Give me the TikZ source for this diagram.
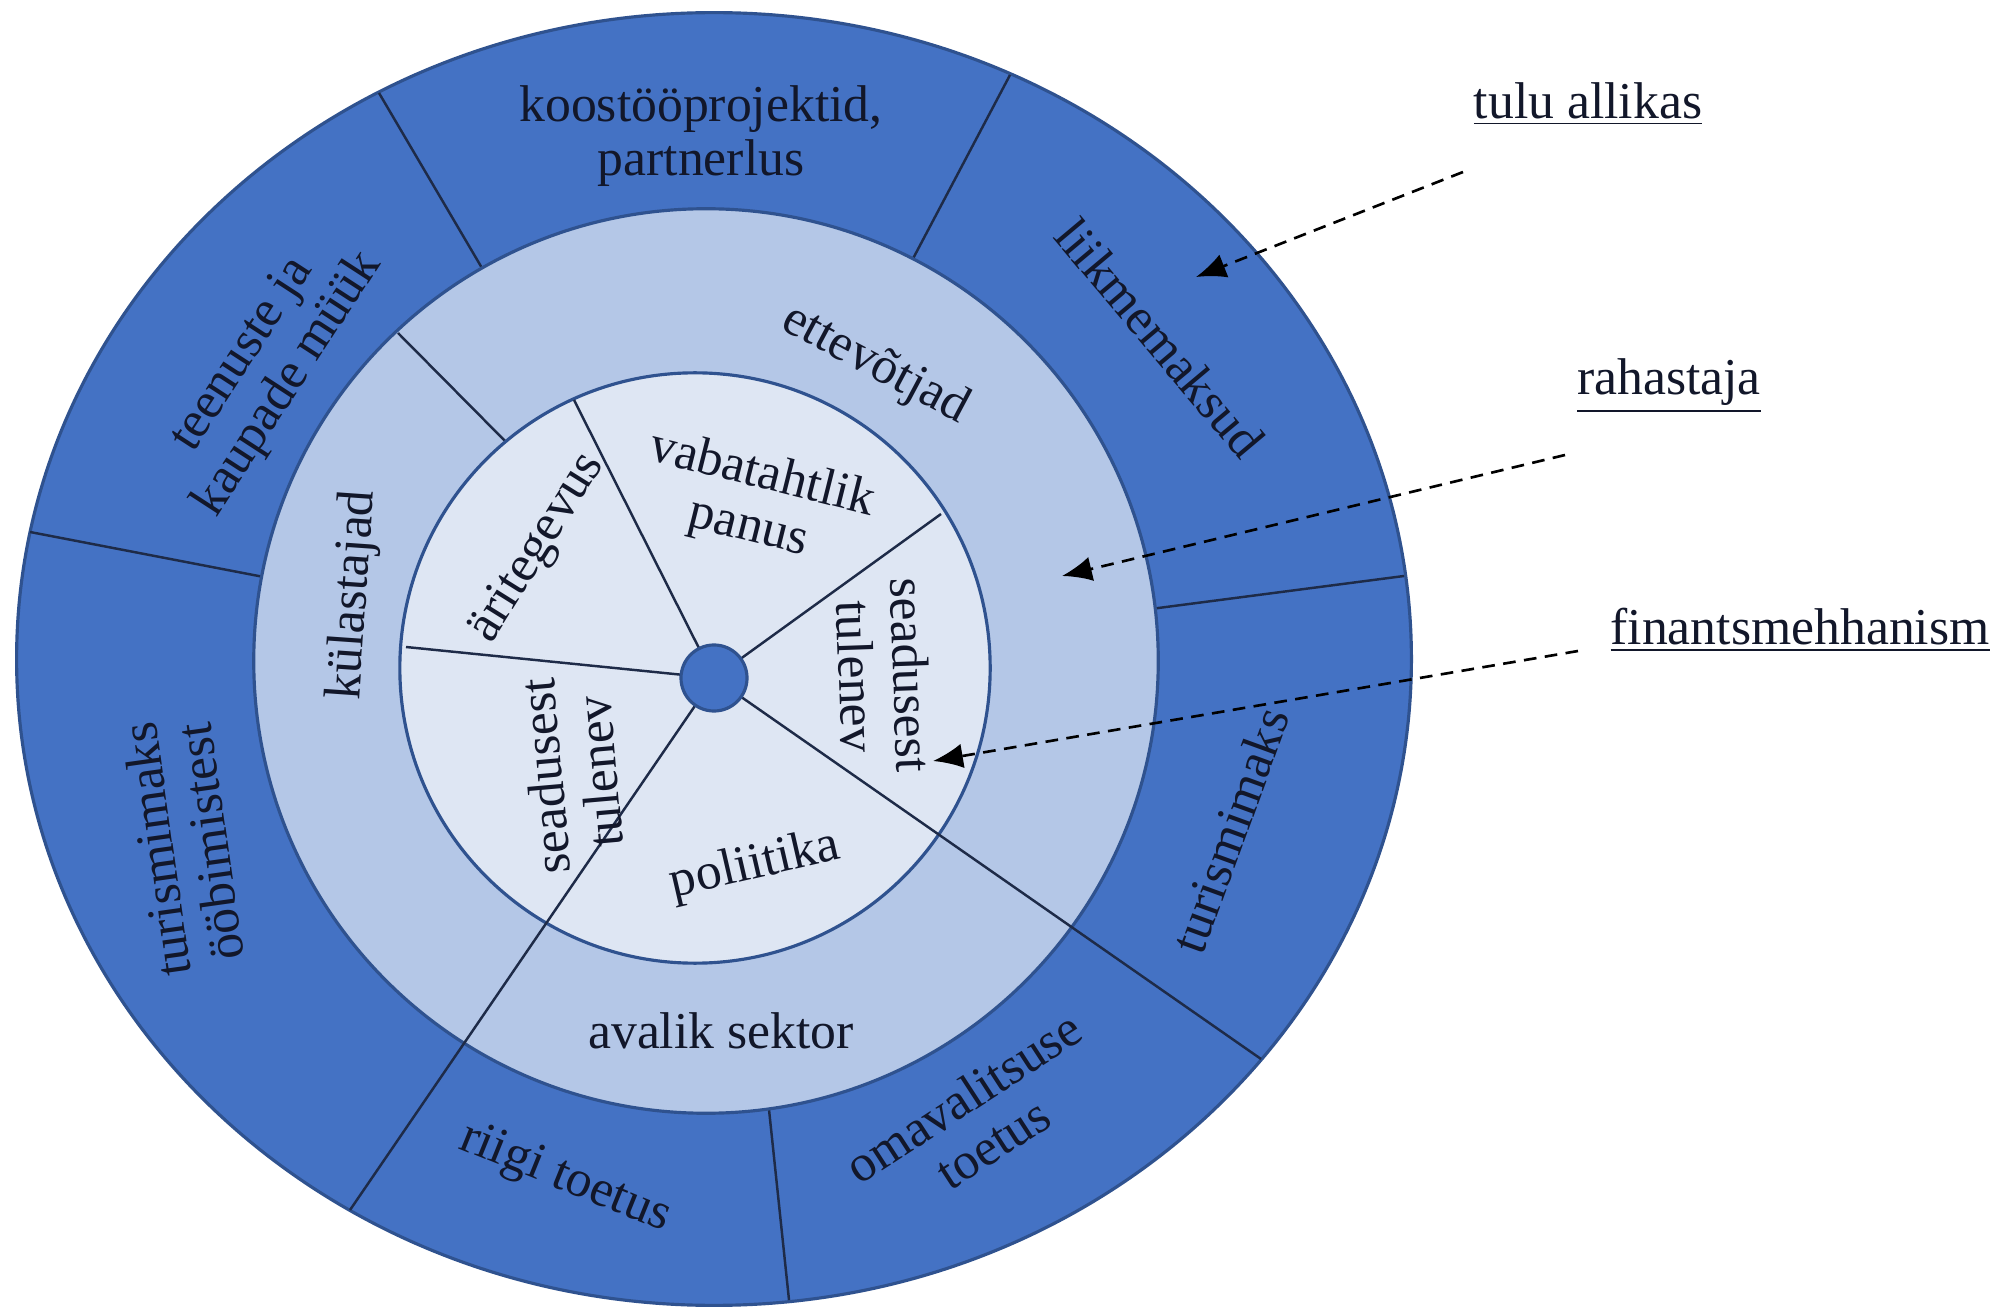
\documentclass[tikz,border=0pt]{standalone}
\usepackage{fontspec}
\setmainfont{Liberation Serif}
\usetikzlibrary{arrows.meta}
\definecolor{outerblue}{HTML}{4472C4}
\definecolor{midblue}{HTML}{B4C7E7}
\definecolor{innerblue}{HTML}{DEE6F3}
\definecolor{rimblue}{HTML}{2F528F}
\definecolor{sepline}{HTML}{1E2B48}
\definecolor{txtdark}{HTML}{12172A}

\begin{document}
\begin{tikzpicture}[x=0.01cm,y=-0.01cm,
lbl/.style={font=\fontsize{14.7}{15.5}\selectfont,text=txtdark,align=center,inner sep=0pt},
sep/.style={draw=sepline,line width=0.7pt},
rim/.style={draw=rimblue,line width=0.9pt},
hint/.style={draw=black,dashed,dash pattern=on 3.6pt off 2.4pt,line width=0.75pt,-{Latex[length=8.5pt,width=7pt]}}]
\useasboundingbox (0,0) rectangle (1995,1310);

% outer ring
\filldraw[rim,fill=outerblue] (714,659) ellipse [x radius=6.97cm,y radius=6.46cm];
\draw[sep] (379,93) -- (489,280);
\draw[sep] (1010,75) -- (898,287);
\draw[sep] (1404,576) -- (1143,610);
\draw[sep] (789,1300) -- (768,1100);
\draw[sep] (30,532) -- (269,578);

% middle ring
\filldraw[rim,fill=midblue] (706,661) circle [radius=4.52cm];
\draw[sep] (398,333) -- (510,446);

% inner circle
\filldraw[rim,fill=innerblue] (695,668) circle [radius=2.95cm];
\coordinate (hub) at (714,678);
\draw[sep] (hub) -- (574,400);
\draw[sep] (hub) -- (941,514);
\draw[sep] (hub) -- (406,647);
\draw[sep] (hub) -- (1261,1059);
\draw[sep] (hub) -- (350,1210);
\filldraw[rim,fill=outerblue] (hub) circle [radius=0.33cm];

% outer labels
\node (koost) [lbl] at (701,136) {koostööprojektid,\\partnerlus};
\node (teenus) [lbl,rotate=57] at (266,370) {teenuste ja\\kaupade müük};
\node (liikme) [lbl,rotate=-50] at (1160,338) {liikmemaksud};
\node (turisR) [lbl,rotate=70] at (1230,830) {turismimaks};
\node (omaval) [lbl,rotate=33] at (978,1120) {omavalitsuse\\toetus};
\node (riigi) [lbl,rotate=-22] at (565,1179) {riigi toetus};
\node (turisL) [lbl,rotate=98] at (183,846) {turismimaks\\ööbimistest};

% middle labels
\node (ettev) [lbl,rotate=-28] at (875,365) {ettevõtjad};
\node (kylast) [lbl,rotate=86] at (354,595) {külastajad};
\node (avalik) [lbl] at (721,1031) {avalik sektor};

% inner labels
\node (ari) [lbl,rotate=58] at (538,548) {äritegevus};
\node (vaba) [lbl,rotate=-14] at (755,502) {vabatahtlik\\panus};
\node (seadR) [lbl,rotate=-88] at (884,676) {seadusest\\tulenev};
\node (seadL) [lbl,rotate=95] at (572,774) {seadusest\\tulenev};
\node (polii) [lbl,rotate=13] at (755,866) {poliitika};

% legend
\node (tulu) [lbl] at (1588,104) {\underline{tulu allikas}};
\node (rahast) [lbl] at (1669,386) {\underline{rahastaja}};
\node (finants) [lbl] at (1800,630) {\underline{finantsmehhanism}};
\coordinate (tuluS) at (1463,172);
\coordinate (tuluT) at (1196,277);
\coordinate (rahastS) at (1565,455);
\coordinate (rahastT) at (1062,576);
\coordinate (finantsS) at (1578,651);
\coordinate (finantsT) at (933,761);
\draw[hint] (tuluS) -- (tuluT);
\draw[hint] (rahastS) -- (rahastT);
\draw[hint] (finantsS) -- (finantsT);
\end{tikzpicture}
\end{document}
